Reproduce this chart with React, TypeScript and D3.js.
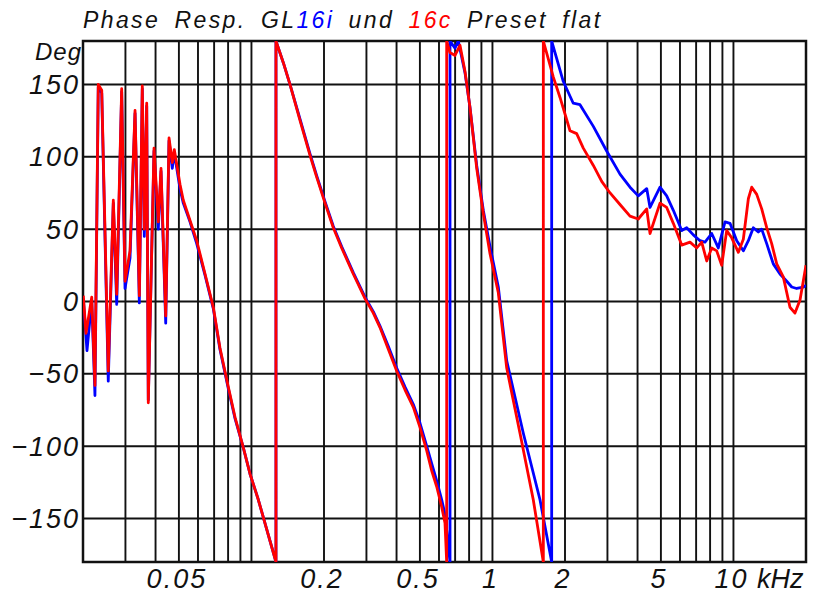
import React from 'react';
import * as d3 from 'd3';

// ---- data (frequency in kHz, phase in degrees) ----
const redFreq = [
  0.02006, 0.02058, 0.02174, 0.02242, 0.02314, 0.02392, 0.02546, 0.02672, 0.0276, 0.02894,
  0.02988, 0.03134, 0.03288, 0.03426, 0.03524, 0.03592, 0.03676, 0.03732, 0.03942, 0.04106,
  0.04214, 0.04408, 0.0455, 0.04694, 0.04784, 0.05052, 0.05214, 0.0556, 0.05928, 0.0642,
  0.06946, 0.074, 0.08014, 0.0855, 0.09252, 0.0986, 0.1068, 0.1264,
  0.1264, 0.1356, 0.1445, 0.1591, 0.175, 0.1865, 0.202, 0.2186, 0.2368, 0.2646,
  0.296, 0.3204, 0.3416, 0.3698, 0.4006, 0.4336, 0.4694, 0.5004, 0.5336, 0.5598,
  0.5872, 0.6158, 0.6354, 0.6458,
  0.6458, 0.6666, 0.6992, 0.7334, 0.7694, 0.807, 0.8604, 0.9162, 0.977, 1.0576, 1.146, 1.301, 1.477, 1.626,
  1.626, 1.789, 1.907, 2.098, 2.236, 2.382, 2.622, 2.84, 3.076, 3.382,
  3.722, 4.028, 4.366, 4.506, 4.958, 5.284, 5.63, 6.1, 6.602, 7.04,
  7.384, 7.746, 8.124, 8.522, 8.938, 9.376, 9.834, 10.48, 10.99, 11.53,
  11.91, 12.49, 13.1, 13.74, 14.41, 15.12, 16.1, 17.16, 18.0, 18.89, 20,
];
const redPhase = [
  4, -22, 3, -58, 150, 146, -48, 70, 5, 147,
  14, 35, 132, 4, 149, 50, 137, -70, 106, 55,
  92, -10, 113, 96, 105, 81, 70, 56, 42, 19,
  -4, -32, -59, -80, -101, -119, -137, -180,
  180, 165, 150, 125, 101, 86, 68, 51, 37, 19,
  2, -8, -18, -33, -48, -61, -73, -87, -103, -117,
  -128, -142, -153, -180,
  180, 172, 170, 177, 159, 134, 92, 61, 33, 6, -46, -91, -137, -180,
  180, 155, 141, 118, 116, 106, 94, 83, 75, 67,
  59, 57, 64, 47, 68, 65, 54, 39, 41, 37,
  41, 28, 37, 35, 25, 49, 44, 34, 43, 71,
  79, 74, 64, 51, 40, 26, 17, -4, -8, 1, 25,
];

const blueFreq = [
  0.02006, 0.02078, 0.02174, 0.02242, 0.02314, 0.02392, 0.02546, 0.02672, 0.0276, 0.02894,
  0.02988, 0.03134, 0.03288, 0.03426, 0.03524, 0.03592, 0.03676, 0.03732, 0.03942, 0.04106,
  0.04214, 0.04408, 0.0455, 0.04694, 0.04784, 0.05052, 0.05214, 0.0556, 0.05928, 0.0642,
  0.06946, 0.074, 0.08014, 0.0855, 0.09252, 0.0986, 0.1068, 0.1264,
  0.1264, 0.1356, 0.1445, 0.1591, 0.175, 0.1865, 0.202, 0.2186, 0.2368, 0.2646,
  0.296, 0.3204, 0.3416, 0.3698, 0.4006, 0.4336, 0.4694, 0.5004, 0.5336, 0.5598,
  0.5872, 0.6158, 0.6354, 0.6666,
  0.6666, 0.6992, 0.7216, 0.7694, 0.807, 0.8604, 0.9162, 0.977, 1.0576, 1.146, 1.343, 1.575, 1.761,
  1.761, 1.968, 2.164, 2.308, 2.622, 2.978, 3.382, 3.722, 4.028, 4.366,
  4.506, 4.958, 5.284, 5.63, 6.1, 6.398, 6.816, 7.266, 7.62, 8.124,
  8.652, 9.226, 9.676, 10.32, 10.99, 11.53, 12.09, 12.68, 13.1, 13.74,
  14.63, 15.6, 16.64, 17.45, 18.3, 19.49, 20,
];
const bluePhase = [
  2, -34, 1, -65, 148, 144, -55, 68, -2, 145,
  9, 30, 130, -1, 147, 45, 135, -68, 104, 50,
  90, -15, 111, 92, 103, 78, 68, 55, 40, 18,
  -5, -33, -60, -81, -101, -119, -137, -180,
  180, 165, 150, 126, 102, 87, 69, 52, 38, 20,
  3, -7, -17, -31, -46, -59, -71, -84, -100, -112,
  -124, -137, -147, -180,
  180, 175, 180, 158, 134, 94, 63, 38, 10, -41, -91, -137, -180,
  180, 152, 137, 136, 121, 104, 88, 79, 73, 78,
  65, 79, 73, 63, 49, 51, 46, 42, 41, 47,
  37, 55, 54, 42, 35, 42, 51, 48, 50, 40,
  26, 19, 14, 10, 9, 10, 11,
];

const gridFreqs = [
  0.03, 0.04, 0.05, 0.06, 0.07, 0.08, 0.09, 0.1,
  0.2, 0.3, 0.4, 0.5, 0.6, 0.7, 0.8, 0.9, 1,
  2, 3, 4, 5, 6, 7, 8, 9, 10,
];
const gridDeg = [150, 100, 50, 0, -50, -100, -150];
const xTickValues = [0.05, 0.2, 0.5, 1, 2, 5, 10];
const xTickLabels = ['0.05', '0.2', '0.5', '1', '2', '5', '10'];
const yTickLabels = ['150', '100', '50', '0', '\u221250', '\u2212100', '\u2212150'];

const FONT = '"Liberation Sans", Arial, sans-serif';

export default function App() {
  const left = 83, right = 806, top = 41, bottom = 562;
  const x = d3.scaleLog().domain([0.02, 20]).range([left, right]);
  const y = d3.scaleLinear().domain([-180, 180]).range([bottom, top]);
  const line = d3.line<[number, number]>().x(d => x(d[0])).y(d => y(d[1]));
  const redPts = redFreq.map((f, i) => [f, redPhase[i]] as [number, number]);
  const bluePts = blueFreq.map((f, i) => [f, bluePhase[i]] as [number, number]);

  return (
    <svg width={814} height={596} style={{ position: 'absolute', left: 0, top: 0 }}>
      <rect x={0} y={0} width={814} height={596} fill="#fff" />
      <defs>
        <clipPath id="plotclip">
          <rect x={left} y={top} width={right - left} height={bottom - top} />
        </clipPath>
      </defs>
      {gridFreqs.map(f => (
        <line key={'gx' + f} x1={x(f)} x2={x(f)} y1={top} y2={bottom} stroke="#111" strokeWidth={1.9} />
      ))}
      {gridDeg.map(v => (
        <line key={'gy' + v} x1={left} x2={right} y1={y(v)} y2={y(v)} stroke="#111" strokeWidth={2} />
      ))}
      <rect x={left} y={top} width={right - left} height={bottom - top} fill="none" stroke="#111" strokeWidth={2.5} />
      <g clipPath="url(#plotclip)">
        <path d={line(bluePts) || ''} fill="none" stroke="#0000ff" strokeWidth={2.8} strokeLinejoin="round" />
        <path d={line(redPts) || ''} fill="none" stroke="#ff0000" strokeWidth={2.8} strokeLinejoin="round" />
      </g>
      <text x={left} y={28} fontFamily={FONT} fontStyle="italic" fontSize={23} letterSpacing={2.4} wordSpacing={5.5} fill="#111">
        <tspan>Phase Resp. GL</tspan>
        <tspan fill="#0000ff">16i</tspan>
        <tspan> und </tspan>
        <tspan fill="#ff0000">16c</tspan>
        <tspan> Preset flat</tspan>
      </text>
      <text x={82} y={60} textAnchor="end" fontFamily={FONT} fontStyle="italic" fontSize={24} letterSpacing={1} fill="#111">Deg</text>
      {gridDeg.map((v, i) => (
        <text key={'yl' + v} x={80} y={y(v) + 9.5} textAnchor="end" fontFamily={FONT} fontStyle="italic" fontSize={27} letterSpacing={2} fill="#111">
          {yTickLabels[i]}
        </text>
      ))}
      {xTickValues.map((v, i) => (
        <text key={'xl' + v} x={x(v) - 2} y={588} textAnchor="middle" fontFamily={FONT} fontStyle="italic" fontSize={27} letterSpacing={2} fill="#111">
          {xTickLabels[i]}
        </text>
      ))}
      <text x={757} y={588} fontFamily={FONT} fontStyle="italic" fontSize={27} fill="#111">kHz</text>
    </svg>
  );
}
